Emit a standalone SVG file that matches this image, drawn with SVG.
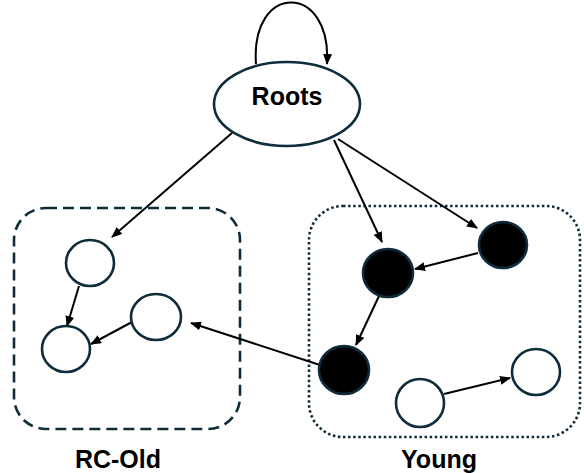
<svg xmlns="http://www.w3.org/2000/svg" width="584" height="473" viewBox="0 0 584 473">
<style>
.node{fill:#fff;stroke:#0f2c3b;stroke-width:2.6}
.full{fill:#000;stroke:#0f2c3b;stroke-width:2.6}
.edge{fill:none;stroke:#000;stroke-width:2}
.lbl{font-family:"Liberation Sans",Arial,sans-serif;font-weight:bold;font-size:25px;fill:#000;text-anchor:middle}
</style>
<defs>
<marker id="ah" markerUnits="userSpaceOnUse" markerWidth="11" markerHeight="9" refX="10" refY="4.5" orient="auto">
<path d="M0,0 L11,4.5 L0,9 z" fill="#000"/>
</marker>
</defs>
<g id="rc-old">
<rect x="14" y="208" width="226" height="221" rx="32" ry="32" fill="none" stroke="#0f2c3b" stroke-width="2.6" stroke-dasharray="11 6"/>
<text class="lbl" x="118" y="468">RC-Old</text>
</g>
<g id="young">
<rect x="309" y="206" width="271" height="231" rx="34" ry="34" fill="none" stroke="#0f2c3b" stroke-width="2.6" stroke-dasharray="2.5 2.6"/>
<text class="lbl" x="439" y="468">Young</text>
</g>
<g id="connectors">
<path class="edge" d="M256,64 C250,-18 332,-18 327,64" marker-end="url(#ah)"/>
<line class="edge" x1="232" y1="133" x2="112" y2="237" marker-end="url(#ah)"/>
<line class="edge" x1="334" y1="140" x2="382" y2="242" marker-end="url(#ah)"/>
<line class="edge" x1="338" y1="139" x2="477" y2="228" marker-end="url(#ah)"/>
<line class="edge" x1="79" y1="286" x2="67" y2="326" marker-end="url(#ah)"/>
<line class="edge" x1="132" y1="322" x2="91" y2="344" marker-end="url(#ah)"/>
<line class="edge" x1="478" y1="253" x2="415" y2="269" marker-end="url(#ah)"/>
<line class="edge" x1="379" y1="296" x2="356" y2="345" marker-end="url(#ah)"/>
<line class="edge" x1="320" y1="365" x2="191" y2="323" marker-end="url(#ah)"/>
<line class="edge" x1="444" y1="394" x2="510" y2="378" marker-end="url(#ah)"/>
</g>
<g id="roots">
<ellipse class="node" cx="287" cy="104" rx="73" ry="42"/>
<text class="lbl" x="287" y="105">Roots</text>
</g>
<g id="n-a"><ellipse class="node" cx="90" cy="263" rx="24" ry="23"/></g>
<g id="n-b"><ellipse class="node" cx="156" cy="317" rx="25" ry="23"/></g>
<g id="n-c"><ellipse class="node" cx="66" cy="349" rx="24" ry="23"/></g>
<g id="n-d"><ellipse class="full" cx="388" cy="273" rx="25" ry="24"/></g>
<g id="n-e"><ellipse class="full" cx="503" cy="245" rx="24" ry="23"/></g>
<g id="n-f"><ellipse class="full" cx="344" cy="370" rx="25" ry="24"/></g>
<g id="n-g"><ellipse class="node" cx="420" cy="403" rx="24" ry="24"/></g>
<g id="n-h"><ellipse class="node" cx="536" cy="372" rx="24" ry="23"/></g>
</svg>
